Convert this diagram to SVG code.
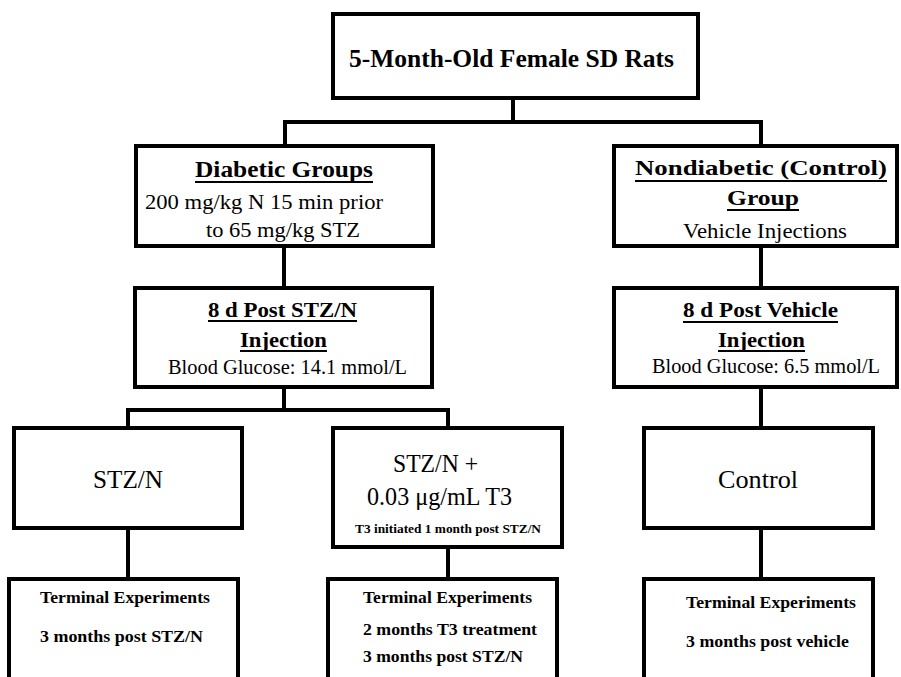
<svg xmlns="http://www.w3.org/2000/svg" width="901" height="677" viewBox="0 0 901 677" font-family="'Liberation Serif', 'Times New Roman', serif">
<style>
.box{fill:#fff;stroke:#000;stroke-width:4}
.conn{fill:none;stroke:#000;stroke-width:4}
.ul{stroke:#000;stroke-width:1.8}
text{font-family:'Liberation Serif','Times New Roman',serif;fill:#000}
.b{font-weight:bold}
</style>
<rect width="901" height="677" fill="#fff"/>
<g id="connectors">
<path class="conn" d="M513 98V122M285 122H761M285 120V146M761 120V146"/>
<path class="conn" d="M284 246V288M761 246V288"/>
<path class="conn" d="M284 387V410M128 410H448M128 408V428M448 408V428"/>
<path class="conn" d="M761 387V428"/>
<path class="conn" d="M128 528V579M448 547V579M761 528V579"/>
</g>
<g id="root">
<rect class="box" x="333" y="14" width="365" height="84"/>
<text class="b" x="349" y="67" font-size="26" textLength="325" lengthAdjust="spacingAndGlyphs">5-Month-Old Female SD Rats</text>
</g>
<g id="diabetic">
<rect class="box" x="136" y="146" width="297" height="100"/>
<text class="b" x="195" y="177" font-size="23" textLength="178" lengthAdjust="spacingAndGlyphs">Diabetic Groups</text>
<line class="ul" x1="195" y1="182" x2="373" y2="182"/>
<text x="145" y="209" font-size="22" textLength="238" lengthAdjust="spacingAndGlyphs">200 mg/kg N 15 min prior</text>
<text x="206" y="237" font-size="22" textLength="154" lengthAdjust="spacingAndGlyphs">to 65 mg/kg STZ</text>
</g>
<g id="nondiabetic">
<rect class="box" x="614" y="146" width="283" height="100"/>
<text class="b" x="635" y="175" font-size="22" textLength="252" lengthAdjust="spacingAndGlyphs">Nondiabetic (Control)</text>
<line class="ul" x1="635" y1="181" x2="887" y2="181"/>
<text class="b" x="727" y="205" font-size="22" textLength="72" lengthAdjust="spacingAndGlyphs">Group</text>
<line class="ul" x1="727" y1="210" x2="799" y2="210"/>
<text x="683" y="238" font-size="22" textLength="164" lengthAdjust="spacingAndGlyphs">Vehicle Injections</text>
</g>
<g id="post-stz">
<rect class="box" x="135" y="288" width="297" height="99"/>
<text class="b" x="208" y="317" font-size="21" textLength="149" lengthAdjust="spacingAndGlyphs">8 d Post STZ/N</text>
<line class="ul" x1="208" y1="321" x2="357" y2="321"/>
<text class="b" x="240" y="347" font-size="21" textLength="87" lengthAdjust="spacingAndGlyphs">Injection</text>
<line class="ul" x1="240" y1="351" x2="327" y2="351"/>
<text x="168" y="374" font-size="20" textLength="239" lengthAdjust="spacingAndGlyphs">Blood Glucose: 14.1 mmol/L</text>
</g>
<g id="post-vehicle">
<rect class="box" x="614" y="288" width="283" height="99"/>
<text class="b" x="683" y="317" font-size="21" textLength="155" lengthAdjust="spacingAndGlyphs">8 d Post Vehicle</text>
<line class="ul" x1="683" y1="322" x2="838" y2="322"/>
<text class="b" x="718" y="347" font-size="21" textLength="87" lengthAdjust="spacingAndGlyphs">Injection</text>
<line class="ul" x1="718" y1="351" x2="805" y2="351"/>
<text x="652" y="373" font-size="20" textLength="228" lengthAdjust="spacingAndGlyphs">Blood Glucose: 6.5 mmol/L</text>
</g>
<g id="stzn">
<rect class="box" x="14" y="428" width="228" height="100"/>
<text x="93" y="488" font-size="26" textLength="70" lengthAdjust="spacingAndGlyphs">STZ/N</text>
</g>
<g id="stzn-t3">
<rect class="box" x="333" y="428" width="229" height="119"/>
<text x="393" y="472" font-size="26" textLength="85" lengthAdjust="spacingAndGlyphs">STZ/N +</text>
<text x="367" y="505" font-size="26" textLength="145" lengthAdjust="spacingAndGlyphs">0.03 μg/mL T3</text>
<text class="b" x="355" y="533" font-size="13" textLength="186" lengthAdjust="spacingAndGlyphs">T3 initiated 1 month post STZ/N</text>
</g>
<g id="control">
<rect class="box" x="644" y="428" width="229" height="100"/>
<text x="718" y="488" font-size="26" textLength="80" lengthAdjust="spacingAndGlyphs">Control</text>
</g>
<g id="terminal-stzn">
<rect class="box" x="9" y="579" width="229" height="110"/>
<text class="b" x="40" y="603" font-size="17" textLength="170" lengthAdjust="spacingAndGlyphs">Terminal Experiments</text>
<text class="b" x="40" y="642" font-size="17" textLength="163" lengthAdjust="spacingAndGlyphs">3 months post STZ/N</text>
</g>
<g id="terminal-t3">
<rect class="box" x="328" y="579" width="229" height="110"/>
<text class="b" x="363" y="603" font-size="17" textLength="169" lengthAdjust="spacingAndGlyphs">Terminal Experiments</text>
<text class="b" x="363" y="635" font-size="17" textLength="174" lengthAdjust="spacingAndGlyphs">2 months T3 treatment</text>
<text class="b" x="363" y="662" font-size="17" textLength="160" lengthAdjust="spacingAndGlyphs">3 months post STZ/N</text>
</g>
<g id="terminal-control">
<rect class="box" x="644" y="579" width="229" height="110"/>
<text class="b" x="686" y="608" font-size="17" textLength="170" lengthAdjust="spacingAndGlyphs">Terminal Experiments</text>
<text class="b" x="686" y="647" font-size="17" textLength="163" lengthAdjust="spacingAndGlyphs">3 months post vehicle</text>
</g>
</svg>
